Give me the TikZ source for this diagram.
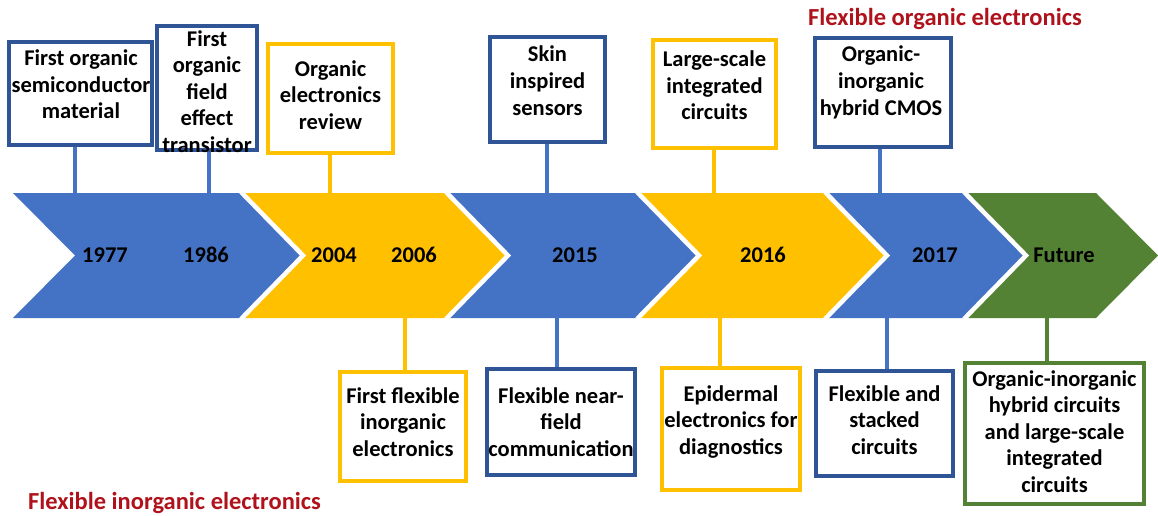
\documentclass[tikz,border=0pt]{standalone}
\usepackage{fontspec}
\setmainfont{Carlito}
\definecolor{chevblue}{HTML}{4472C4}
\definecolor{edgeblue}{HTML}{2F5597}
\definecolor{gold}{HTML}{FFC000}
\definecolor{leaf}{HTML}{548235}
\definecolor{darkred}{HTML}{B0121C}
\tikzset{
  boxbase/.style={fill=white, line width=3.2pt, inner sep=0pt},
  bbox/.style={boxbase, draw=edgeblue},
  ybox/.style={boxbase, draw=gold},
  gbox/.style={boxbase, draw=leaf},
  % multi-line labels: the base anchor sits on the last line
  lbl/.style={font=\fontsize{22.5}{26.5}\selectfont\bfseries, align=center, inner sep=0pt, anchor=base},
  year/.style={font=\fontsize{22.5}{26.5}\selectfont\bfseries, inner sep=0pt, anchor=base},
  era/.style={font=\fontsize{24.5}{28}\selectfont\bfseries, text=darkred, inner sep=0pt, anchor=base west},
  conn/.style={line width=4pt},
  sep/.style={draw=white, line width=4.5pt, line join=miter}
}
% chevron: left edge x, right edge x, colour
\newcommand\chevron[3]{%
  \fill[#3] (#1,193) -- (#2,193) -- (#2+62,255.5) -- (#2,318) -- (#1,318) -- (#1+62,255.5) -- cycle;}
\newcommand\chevsep[1]{%
  \draw[sep] (#1,192) -- (#1+62,255.5) -- (#1,319);}
\begin{document}
\begin{tikzpicture}[x=1pt,y=-1pt]
\useasboundingbox (0,0) rectangle (1158,516);

% timeline band
\chevron{13}{241}{chevblue}
\chevron{241}{446}{gold}
\chevron{446}{637}{chevblue}
\chevron{637}{825}{gold}
\chevron{825}{964}{chevblue}
\chevron{964}{1096}{leaf}
\chevsep{241}\chevsep{446}\chevsep{637}\chevsep{825}\chevsep{964}

% years
\node[year] (y1977) at (105,262) {1977};
\node[year] (y1986) at (206,262) {1986};
\node[year] (y2004) at (334,262) {2004};
\node[year] (y2006) at (414,262) {2006};
\node[year] (y2015) at (575,262) {2015};
\node[year] (y2016) at (763,262) {2016};
\node[year] (y2017) at (935,262) {2017};
\node[year] (yfut)  at (1064,262) {Future};

% attachment points on the band
\coordinate (k1) at (75,193);
\coordinate (k2) at (209,193);
\coordinate (k3) at (330,193);
\coordinate (k4) at (547,193);
\coordinate (k5) at (714,193);
\coordinate (k6) at (880,193);
\coordinate (k7) at (405,318);
\coordinate (k8) at (557,318);
\coordinate (k9) at (720,318);
\coordinate (k10) at (887,318);
\coordinate (k11) at (1047,318);

% boxes above the band
\node[bbox, minimum width=143, minimum height=103] (t1) at (80.5,93.5) {};
\node[bbox, minimum width=100, minimum height=124] (t2) at (207,88) {};
\node[ybox, minimum width=125, minimum height=109] (t3) at (330.5,98.5) {};
\node[bbox, minimum width=115, minimum height=105] (t4) at (547.5,89.5) {};
\node[ybox, minimum width=123, minimum height=108] (t5) at (714.5,94) {};
\node[bbox, minimum width=136, minimum height=109] (t6) at (883,92.5) {};

% boxes below the band
\node[ybox, minimum width=126, minimum height=109] (b7) at (403,426.5) {};
\node[bbox, minimum width=148, minimum height=106] (b8) at (561,422) {};
\node[ybox, minimum width=138, minimum height=122] (b9) at (731,429) {};
\node[bbox, minimum width=137, minimum height=105] (b10) at (884.5,423.5) {};
\node[gbox, minimum width=179, minimum height=141] (b11) at (1054.5,433.5) {};

% connectors
\draw[conn, chevblue] (t1.south -| k1) -- (k1);
\draw[conn, chevblue] (t2.south -| k2) -- (k2);
\draw[conn, gold] (t3.south -| k3) -- (k3);
\draw[conn, chevblue] (t4.south -| k4) -- (k4);
\draw[conn, gold] (t5.south -| k5) -- (k5);
\draw[conn, chevblue] (t6.south -| k6) -- (k6);
\draw[conn, gold] (k7) -- (b7.north -| k7);
\draw[conn, chevblue] (k8) -- (b8.north -| k8);
\draw[conn, gold] (k9) -- (b9.north -| k9);
\draw[conn, chevblue] (k10) -- (b10.north -| k10);
\draw[conn, leaf] (k11) -- (b11.north -| k11);

% box texts (positions give the baseline of the last line)
\node[lbl] (t1l) at (81,119) {First organic\\semiconductor\\material};
\node[lbl] (t2l) at (207,152) {First\\organic\\field\\effect\\transistor};
\node[lbl] (t3l) at (330.5,129) {Organic\\electronics\\review};
\node[lbl] (t4l) at (547.5,115) {Skin\\inspired\\sensors};
\node[lbl] (t5l) at (714.5,120) {Large-scale\\integrated\\circuits};
\node[lbl] (t6l) at (881,115) {Organic-\\inorganic\\hybrid CMOS};
\node[lbl] (b7l) at (403,456) {First flexible\\inorganic\\electronics};
\node[lbl] (b8l) at (561,456) {Flexible near-\\field\\communication};
\node[lbl] (b9l) at (731,454) {Epidermal\\electronics for\\diagnostics};
\node[lbl] (b10l) at (884.5,454) {Flexible and\\stacked\\circuits};
\node[lbl] (b11l) at (1054.5,492) {Organic-inorganic\\hybrid circuits\\and large-scale\\integrated\\circuits};

% era captions
\node[era] (orgera) at (808,26) {Flexible organic electronics};
\node[era] (inorgera) at (28,509) {Flexible inorganic electronics};
\end{tikzpicture}
\end{document}
